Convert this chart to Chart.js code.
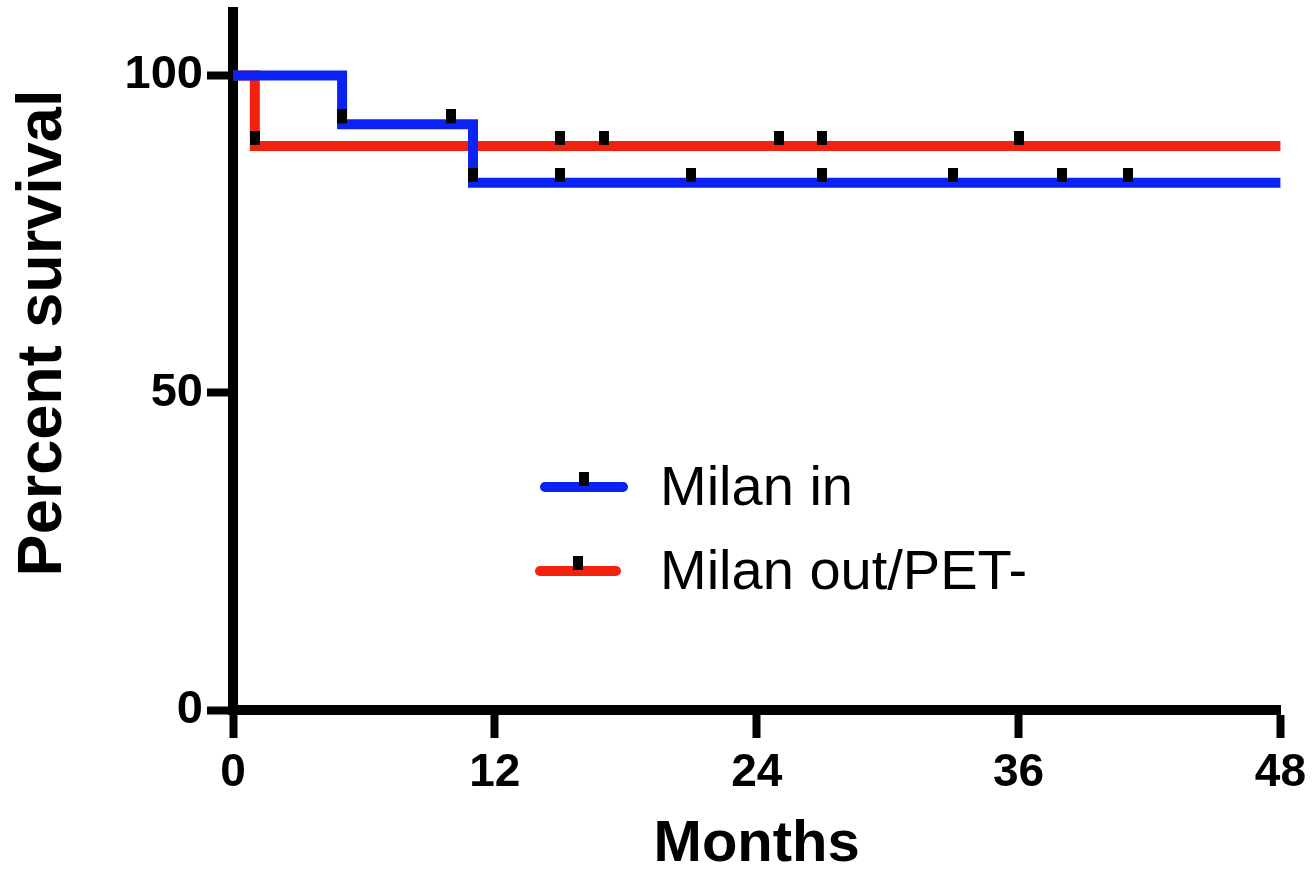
<!DOCTYPE html>
<html>
<head>
<meta charset="utf-8">
<script src="https://cdn.jsdelivr.net/npm/chart.js@4.4.1/dist/chart.umd.min.js"></script>
<style>
  html, body { margin: 0; background: #fff; }
  #wrap { width: 1314px; height: 883px; }
</style>
</head>
<body>
<div id="wrap"><canvas id="km"></canvas></div>
<script>
// Kaplan-Meier steps (months, % survival)
const inTimes = [0, 5, 11, 48];
const inSurv = [100, 92.3, 83.1, 83.1];
const outTimes = [0, 1, 48];
const outSurv = [100, 88.9, 88.9];

// censored patients
const inCensorTimes = [5, 10, 11, 15, 21, 27, 33, 38, 41];
const inCensorSurv = [92.3, 92.3, 83.1, 83.1, 83.1, 83.1, 83.1, 83.1, 83.1];
const outCensorTimes = [1, 15, 17, 25, 27, 36];
const outCensorSurv = [88.9, 88.9, 88.9, 88.9, 88.9, 88.9];

const seriesNames = ["Milan in", "Milan out/PET-"];
const xTicks = [0, 12, 24, 36, 48];
const yTicks = [0, 50, 100];
const yTitle = "Percent survival";

const BLUE = "#0a22f2";
const RED = "#f2230e";
const FONT = "'Liberation Sans', Arial, sans-serif";

function pts(xs, ys) {
  return xs.map((x, i) => ({ x: x, y: ys[i] }));
}

// censor mark: small black block sitting on top of the line
function makeTick() {
  const c = document.createElement("canvas");
  c.width = 10;
  c.height = 30;
  const g = c.getContext("2d");
  g.fillStyle = "#000";
  g.fillRect(0, 0, 10, 14);
  return c;
}
const tickImg = makeTick();

// legend inside the plot + y title (placed a bit above centre like the original)
const decorPlugin = {
  id: "kmDecor",
  afterDraw(chart) {
    const ctx = chart.ctx;
    const items = [
      { color: BLUE, x0: 545, x1: 623, y: 487, ty: 490, label: seriesNames[0] },
      { color: RED, x0: 540, x1: 616, y: 571, ty: 574, label: seriesNames[1] }
    ];
    ctx.save();
    items.forEach(it => {
      ctx.strokeStyle = it.color;
      ctx.lineWidth = 10;
      ctx.lineCap = "round";
      ctx.beginPath();
      ctx.moveTo(it.x0, it.y);
      ctx.lineTo(it.x1, it.y);
      ctx.stroke();
      const mid = (it.x0 + it.x1) / 2;
      ctx.drawImage(tickImg, mid - 5, it.y - 15);
      ctx.fillStyle = "#000";
      ctx.font = "56px " + FONT;
      ctx.textBaseline = "middle";
      ctx.textAlign = "left";
      ctx.fillText(it.label, 660, it.ty);
    });

    ctx.translate(44, 333);
    ctx.rotate(-Math.PI / 2);
    ctx.font = "bold 63px " + FONT;
    ctx.textAlign = "center";
    ctx.textBaseline = "middle";
    ctx.fillStyle = "#000";
    ctx.fillText(yTitle, 0, 0);
    ctx.restore();
  }
};

const ctx = document.getElementById("km").getContext("2d");
new Chart(ctx, {
  type: "line",
  data: {
    datasets: [
      {
        label: seriesNames[0] + " censored",
        data: pts(inCensorTimes, inCensorSurv),
        showLine: false,
        pointStyle: tickImg,
        pointRadius: 5,
        order: 0
      },
      {
        label: seriesNames[1] + " censored",
        data: pts(outCensorTimes, outCensorSurv),
        showLine: false,
        pointStyle: tickImg,
        pointRadius: 5,
        order: 0
      },
      {
        label: seriesNames[0],
        data: pts(inTimes, inSurv),
        stepped: "before",
        borderColor: BLUE,
        borderWidth: 10,
        borderCapStyle: "round",
        borderJoinStyle: "miter",
        pointRadius: 0,
        fill: false,
        order: 1
      },
      {
        label: seriesNames[1],
        data: pts(outTimes, outSurv),
        stepped: "before",
        borderColor: RED,
        borderWidth: 10,
        borderCapStyle: "round",
        borderJoinStyle: "miter",
        pointRadius: 0,
        fill: false,
        order: 2
      }
    ]
  },
  options: {
    responsive: true,
    maintainAspectRatio: false,
    animation: false,
    layout: { padding: { top: 12, right: 31, left: 0, bottom: 0 } },
    plugins: {
      legend: { display: false },
      tooltip: { enabled: false }
    },
    scales: {
      x: {
        type: "linear",
        min: 0,
        max: 48,
        afterBuildTicks: s => { s.ticks = xTicks.map(v => ({ value: v })); },
        afterFit: s => { s.height = 173; },
        grid: { drawOnChartArea: false, drawTicks: true, tickLength: 28, tickWidth: 8, tickColor: "#000" },
        border: { display: true, width: 10, color: "#000" },
        ticks: { color: "#000", padding: 8, maxRotation: 0, font: { family: FONT, size: 46, weight: "bold" } },
        title: { display: true, text: "Months", color: "#000", padding: { top: 0, bottom: 3 },
                 font: { family: FONT, size: 58, weight: "bold", lineHeight: 1.2 } }
      },
      y: {
        type: "linear",
        min: 0,
        max: 110,
        afterBuildTicks: s => { s.ticks = yTicks.map(v => ({ value: v })); },
        afterFit: s => { s.width = 233; s.paddingTop = 0; s.paddingBottom = 0; },
        grid: { drawOnChartArea: false, drawTicks: true, tickLength: 26, tickWidth: 8, tickColor: "#000" },
        border: { display: true, width: 10, color: "#000" },
        ticks: { color: "#000", padding: 4, font: { family: FONT, size: 47, weight: "bold" } },
        title: { display: false }
      }
    }
  },
  plugins: [decorPlugin]
});
</script>
</body>
</html>
